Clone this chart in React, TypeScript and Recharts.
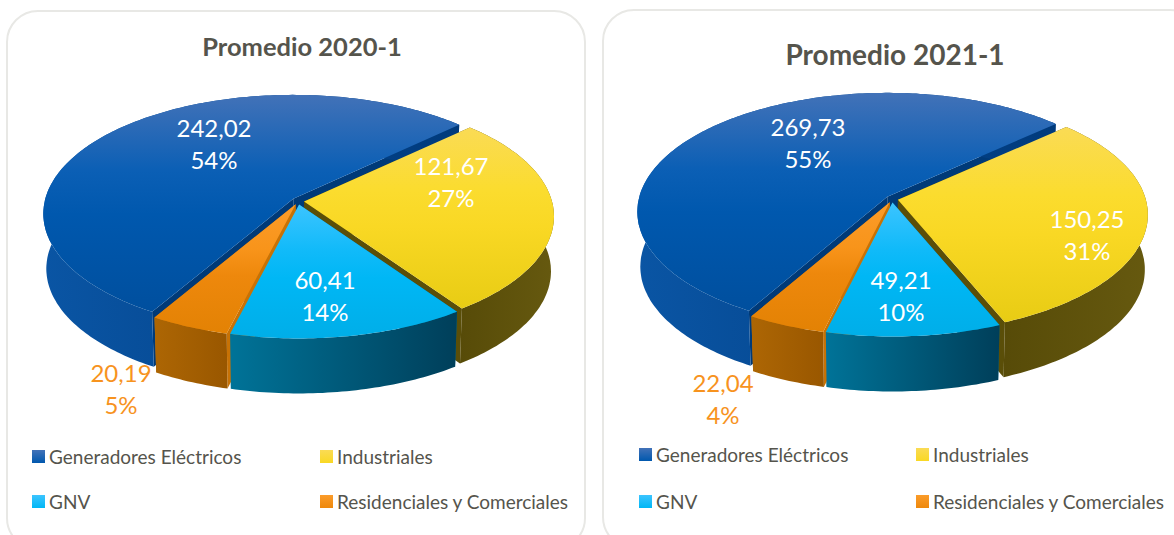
import { PieChart, Pie } from 'recharts';

const categories = ['Generadores Eléctricos', 'Industriales', 'GNV', 'Residenciales y Comerciales'];
const values2020 = [242.02, 121.67, 60.41, 20.19];
const percents2020 = ['54%', '27%', '14%', '5%'];
const values2021 = [269.73, 150.25, 49.21, 22.04];
const percents2021 = ['55%', '31%', '10%', '4%'];

const FONT = 'Lato, "Open Sans", sans-serif';
const TEXT_COLOR = '#55544c';
const LABEL_COLORS = ['#ffffff', '#ffffff', '#ffffff', '#f7931e'];

// top face and side face gradients for each category
const TOP_STOPS = [
  ['#4272b8', '#0b5fb5', '#0058ae', '#004f9e'],
  ['#fadb55', '#fbdc2e', '#f9d824', '#e8cc14'],
  ['#3cc4ff', '#10baf9', '#00b7f5', '#00aee8'],
  ['#fb9c2a', '#f8941a', '#ee880c', '#e38204'],
];
const SIDE_STOPS = [
  ['#0a55a4', '#003a7c'],
  ['#574b08', '#66590f'],
  ['#007398', '#003f5a'],
  ['#ad6604', '#995700'],
];
const CUT_COLORS = ['#003a78', '#5a4e08', '#006a8c', '#c87205'];

const TILT_HEIGHT = 117;
const PERSPECTIVE = 0.126;
const EXPLODE = 6;
const DEPTH = 55;
const BASE_SCALE = 0.988;
const RADIUS = 248;

const rad = (deg: number) => (deg * Math.PI) / 180;

// projects the round pie onto the tilted plane, far side smaller than near side
function rimPoint(cx: number, cy: number, r: number, deg: number) {
  const c = Math.cos(rad(deg));
  const s = Math.sin(rad(deg));
  const w = 1 + PERSPECTIVE * s;
  return { x: cx + (r * c) / w, y: cy - (TILT_HEIGHT * s) / w };
}

function sliceGeometry(props: any) {
  const { cx, cy, outerRadius, startAngle, endAngle } = props;
  const mid = (startAngle + endAngle) / 2;
  const ox = cx + EXPLODE * Math.cos(rad(mid));
  const oy = cy - EXPLODE * 0.6 * Math.sin(rad(mid));
  const rim = [];
  const steps = Math.max(4, Math.ceil(Math.abs(startAngle - endAngle)));
  for (let i = 0; i <= steps; i++) {
    rim.push(rimPoint(ox, oy, outerRadius, startAngle + ((endAngle - startAngle) * i) / steps));
  }
  return { ox, oy, rim };
}

const toBase = (p: { x: number; y: number }, ox: number) => ({ x: ox + (p.x - ox) * BASE_SCALE, y: p.y + DEPTH });
const pathOf = (pts: { x: number; y: number }[]) => 'M' + pts.map((p) => `${p.x.toFixed(1)},${p.y.toFixed(1)}`).join('L') + 'Z';

const sliceIndex = (props: any) => props.idx ?? props.payload?.idx ?? 0;

// the faces seen in the gaps between exploded slices
function CutShape(props: any) {
  const idx = sliceIndex(props);
  const { ox, oy, rim } = sliceGeometry(props);
  const apex = { x: ox, y: oy };
  const first = rim[0];
  const last = rim[rim.length - 1];
  return (
    <g>
      <path d={pathOf([apex, first, toBase(first, ox), toBase(apex, ox)])} fill={CUT_COLORS[idx]} />
      <path d={pathOf([apex, last, toBase(last, ox), toBase(apex, ox)])} fill={CUT_COLORS[idx]} />
    </g>
  );
}

function makeRimShape(prefix: string) {
  return (props: any) => {
    const idx = sliceIndex(props);
    const { ox, rim } = sliceGeometry(props);
    return <path d={pathOf([...rim, ...rim.map((p) => toBase(p, ox)).reverse()])} fill={`url(#${prefix}-side-${idx})`} />;
  };
}

function makeTopShape(prefix: string) {
  return (props: any) => {
    const idx = sliceIndex(props);
    const { ox, oy, rim } = sliceGeometry(props);
    return <path d={pathOf([{ x: ox, y: oy }, ...rim])} fill={`url(#${prefix}-top-${idx})`} />;
  };
}

interface PanelProps {
  id: string;
  title: string;
  values: number[];
  percents: string[];
  left: number;
  width: number;
  pieX: number;
  pieY: number;
  startAngle: number;
  titleX: number;
  titleY: number;
  titleSize: number;
  labelPos: number[][];
  legendX: number[];
  legendY: number[];
}

function Panel({ id, title, values, percents, left, width, pieX, pieY, startAngle, titleX, titleY, titleSize, labelPos, legendX, legendY }: PanelProps) {
  const rows = categories.map((name, idx) => ({ name, value: values[idx], idx }));
  const renderLabel = (props: any) => {
    const i = props.index;
    const [x, y] = labelPos[i];
    const text = values[i].toFixed(2).replace('.', ',');
    return (
      <g key={i} fontFamily={FONT} fontSize={24}>
        <text x={x} y={y} dominantBaseline="central" fill={LABEL_COLORS[i]} textAnchor="middle">{text}</text>
        <text x={x} y={y + 32} dominantBaseline="central" fill={LABEL_COLORS[i]} textAnchor="middle">{percents[i]}</text>
      </g>
    );
  };
  const pieProps = {
    data: rows,
    dataKey: 'value',
    cx: pieX,
    cy: pieY,
    outerRadius: RADIUS,
    startAngle,
    endAngle: startAngle - 360,
    stroke: 'none',
    isAnimationActive: false,
  };

  return (
    <div style={{ position: 'absolute', left, top: 0, width, height: 535 }}>
      <div
        style={{
          position: 'absolute',
          left: titleX - 200,
          width: 400,
          top: titleY - 20,
          height: 40,
          lineHeight: '40px',
          textAlign: 'center',
          fontFamily: FONT,
          fontWeight: 700,
          fontSize: titleSize,
          color: TEXT_COLOR,
        }}
      >
        {title}
      </div>
      <div style={{ position: 'absolute', left: 0, top: 0 }}>
        <PieChart width={width} height={535} margin={{ top: 0, right: 0, bottom: 0, left: 0 }}>
          <defs>
            {TOP_STOPS.map((stops, i) => (
              <linearGradient key={i} id={`${id}-top-${i}`} x1="0" y1="0" x2="0" y2="1">
                <stop offset="0%" stopColor={stops[0]} />
                <stop offset="35%" stopColor={stops[1]} />
                <stop offset="55%" stopColor={stops[2]} />
                <stop offset="100%" stopColor={stops[3]} />
              </linearGradient>
            ))}
            {SIDE_STOPS.map((stops, i) => (
              <linearGradient key={i} id={`${id}-side-${i}`} x1="0" y1="0" x2="1" y2="0">
                <stop offset="0%" stopColor={stops[0]} />
                <stop offset="100%" stopColor={stops[1]} />
              </linearGradient>
            ))}
          </defs>
          {/* three passes so each layer covers the one below it */}
          <Pie {...pieProps} shape={CutShape} />
          <Pie {...pieProps} shape={makeRimShape(id)} />
          <Pie {...pieProps} shape={makeTopShape(id)} label={renderLabel} labelLine={false} />
        </PieChart>
      </div>
      {categories.map((name, i) => (
        <div
          key={name}
          style={{
            position: 'absolute',
            left: legendX[i % 2],
            top: legendY[i < 2 ? 0 : 1] - 12,
            height: 24,
            lineHeight: '24px',
            fontFamily: FONT,
            fontSize: 19,
            color: TEXT_COLOR,
            whiteSpace: 'nowrap',
          }}
        >
          <span
            style={{
              position: 'absolute',
              left: 0,
              top: 5,
              width: 13,
              height: 13,
              background: `linear-gradient(${TOP_STOPS[i][0]}, ${TOP_STOPS[i][2]})`,
            }}
          />
          <span style={{ marginLeft: 17 }}>{name}</span>
        </div>
      ))}
    </div>
  );
}

const cardStyle = {
  position: 'absolute' as const,
  border: '2px solid #e8e8e5',
  borderRadius: 32,
  boxSizing: 'border-box' as const,
  background: '#ffffff',
};

export default function App() {
  return (
    <div style={{ position: 'fixed', left: 0, top: 0, width: 1174, height: 535, overflow: 'hidden', background: '#ffffff' }}>
      <div style={{ ...cardStyle, left: 6, top: 10, width: 580, height: 540 }} />
      <div style={{ ...cardStyle, left: 602, top: 9, width: 600, height: 540 }} />
      <Panel
        id="p2020"
        title="Promedio 2020-1"
        values={values2020}
        percents={percents2020}
        left={0}
        width={590}
        pieX={298}
        pieY={201}
        startAngle={239.5}
        titleX={302}
        titleY={46}
        titleSize={25.5}
        labelPos={[[214, 127], [451, 165], [325, 279], [121, 372]]}
        legendX={[32, 320]}
        legendY={[457, 502]}
      />
      <Panel
        id="p2021"
        title="Promedio 2021-1"
        values={values2021}
        percents={percents2021}
        left={590}
        width={584}
        pieX={302}
        pieY={199}
        startAngle={240.2}
        titleX={305}
        titleY={54}
        titleSize={28}
        labelPos={[[218, 126], [497, 218], [311, 279], [133, 382]]}
        legendX={[49, 326]}
        legendY={[455, 502]}
      />
    </div>
  );
}
